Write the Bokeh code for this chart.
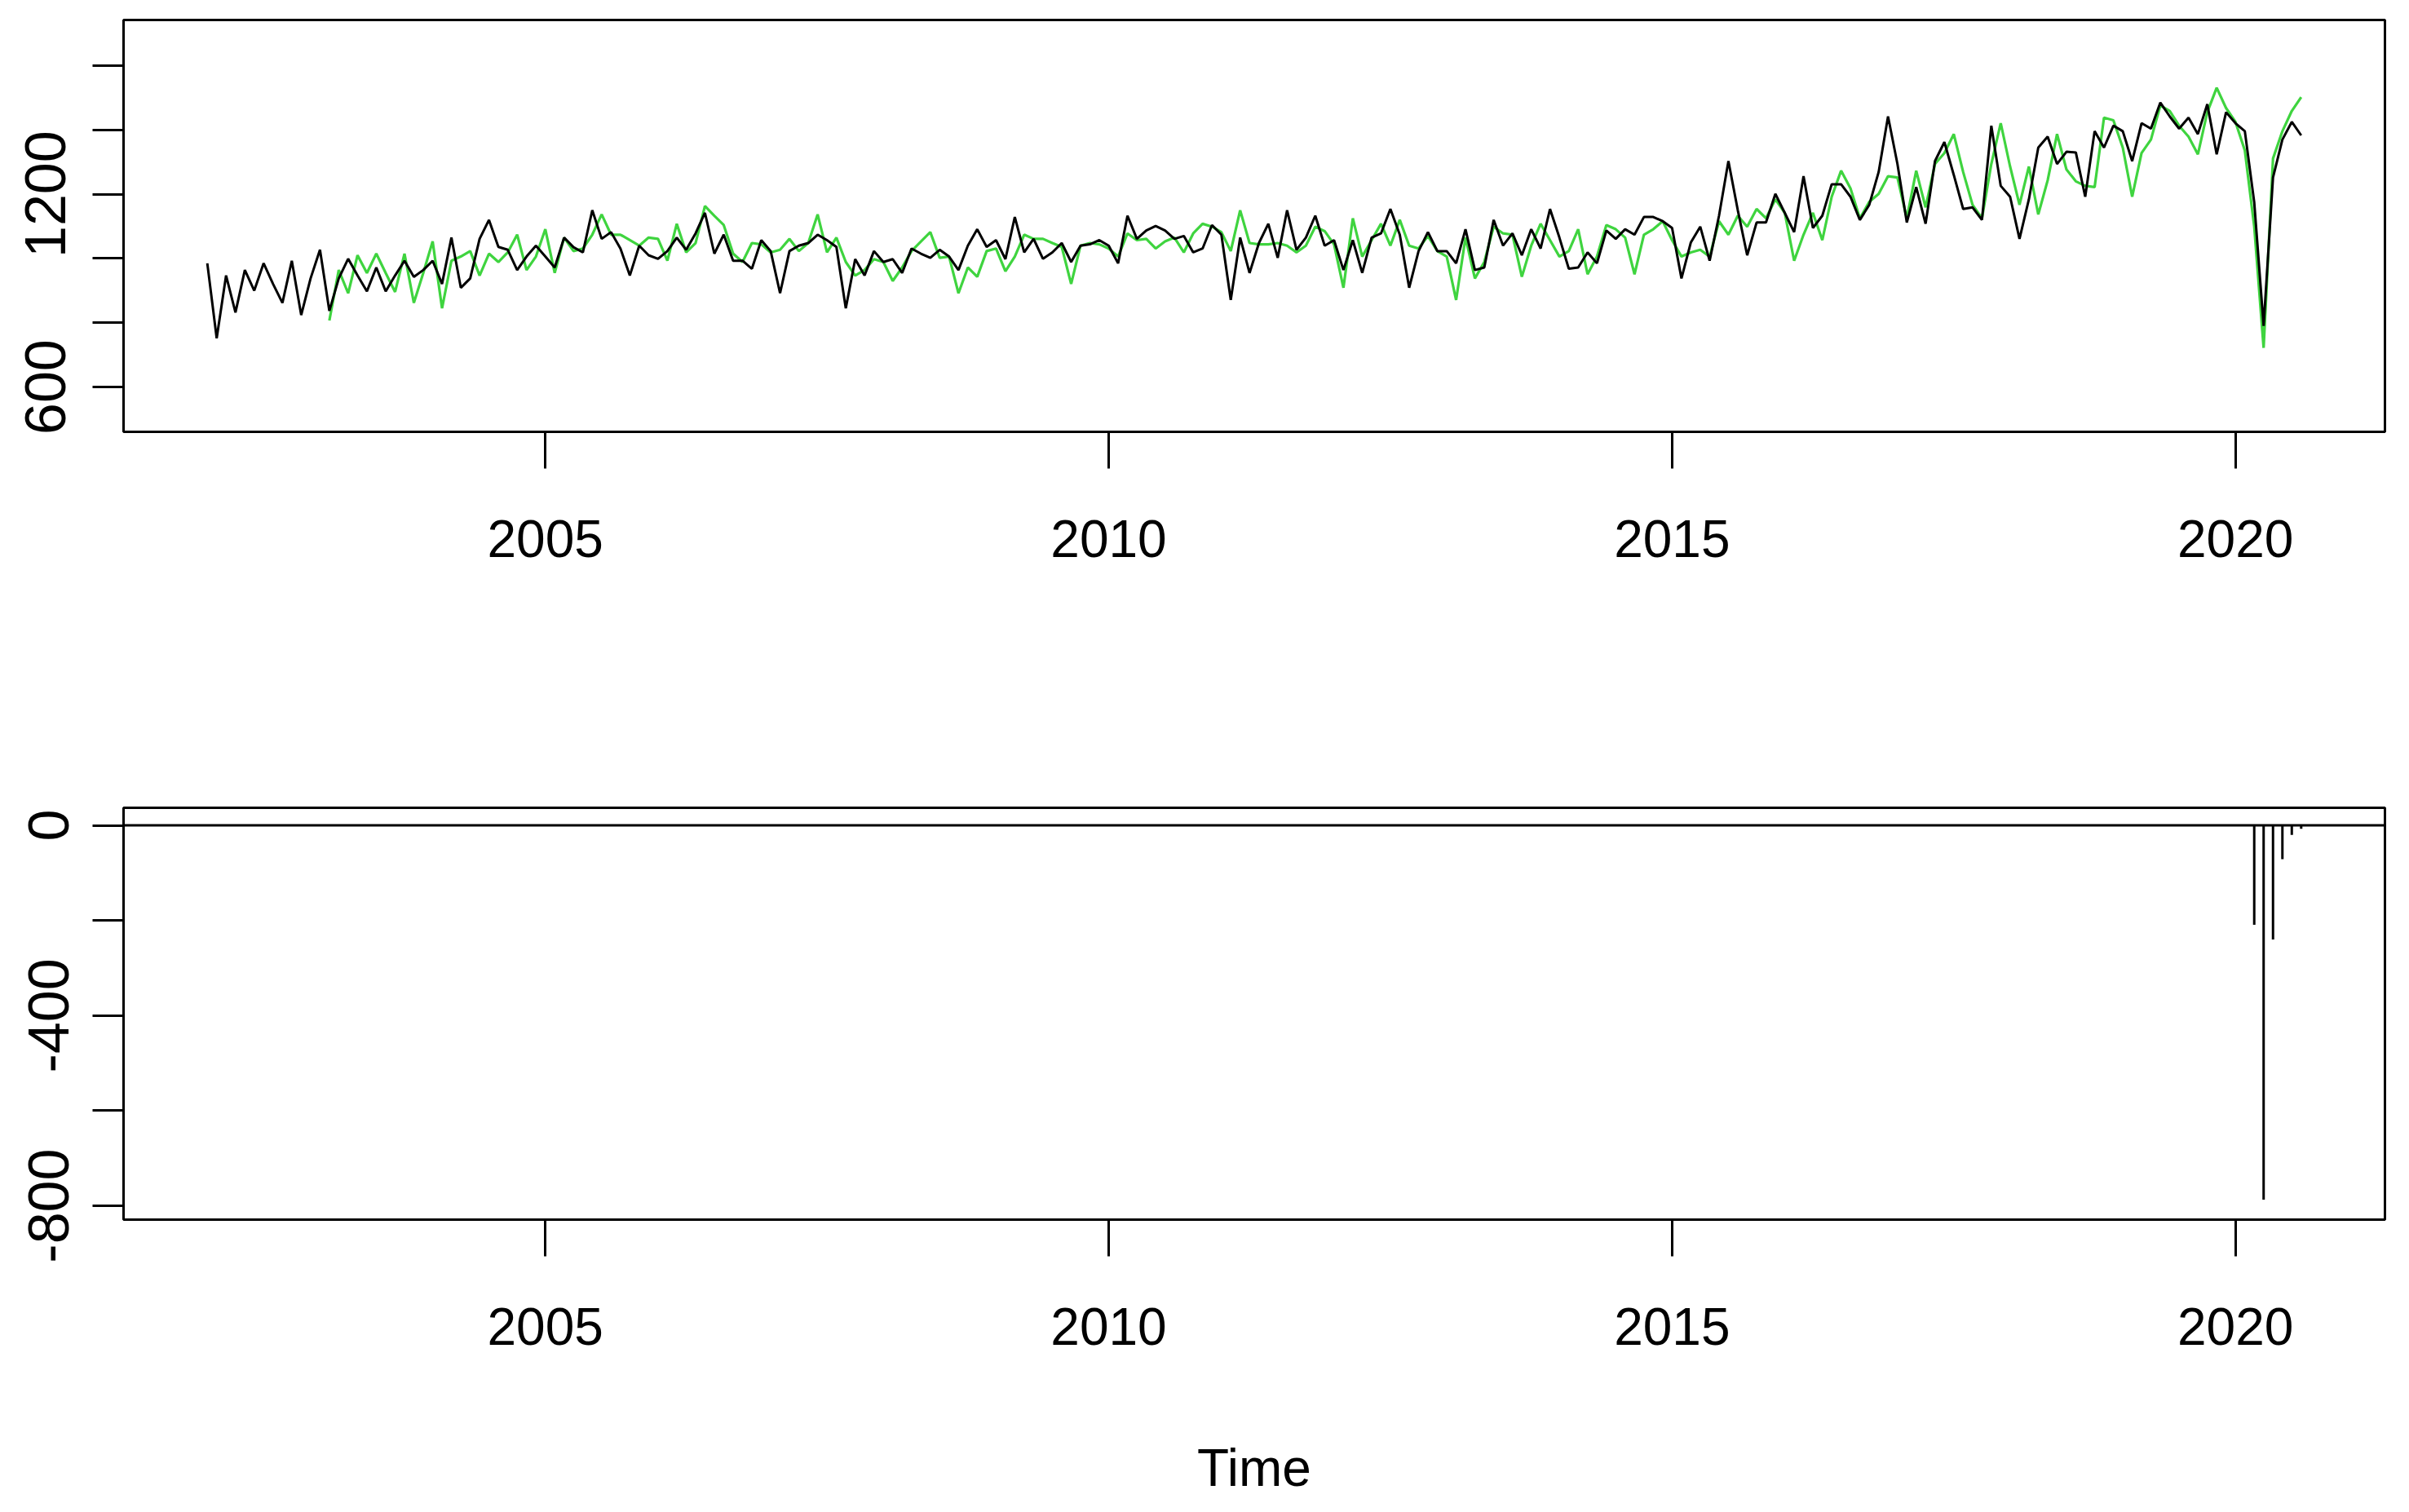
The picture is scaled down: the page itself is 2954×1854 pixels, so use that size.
from bokeh.plotting import figure
from bokeh.layouts import column
from bokeh.models import FixedTicker, Span, Range1d, ColumnDataSource
from bokeh.embed import file_html
from bokeh.resources import INLINE

# ---------------- data (monthly series) ----------------
start_year = 2002          # observed series starts Jan 2002
fitted_start_offset = 13   # fitted series starts Feb 2003

observed = [
    985, 752, 947, 832, 964, 900, 985, 921, 862, 993, 824, 938,
    1027, 837, 938, 999, 947, 898, 972, 898, 947, 993, 943, 964,
    993, 921, 1065, 909, 938, 1061, 1120, 1036, 1027, 964, 1006, 1040,
    1006, 972, 1065, 1035, 1019, 1150, 1061, 1082, 1031, 947, 1040, 1010,
    999, 1023, 1065, 1027, 1078, 1142, 1015, 1074, 993, 993, 968, 1057,
    1023, 892, 1023, 1040, 1048, 1074, 1057, 1036, 845, 998, 947, 1023,
    989, 998, 955, 1031, 1015, 1002, 1027, 1006, 964, 1040, 1091, 1036,
    1057, 998, 1129, 1019, 1061, 999, 1019, 1048, 989, 1040, 1044, 1057,
    1040, 985, 1133, 1061, 1087, 1101, 1087, 1061, 1070, 1019, 1031, 1104,
    1074, 871, 1065, 955, 1048, 1108, 1002, 1150, 1027, 1065, 1133, 1040,
    1057, 964, 1057, 955, 1065, 1078, 1154, 1074, 909, 1023, 1082, 1023,
    1023, 985, 1091, 964, 972, 1120, 1040, 1078, 1010, 1091, 1031, 1154,
    1065, 968, 972, 1019, 985, 1087, 1061, 1091, 1074, 1129, 1129, 1116,
    1095, 938, 1050, 1099, 993, 1133, 1303, 1150, 1010, 1112, 1112, 1201,
    1142, 1082, 1256, 1095, 1133, 1231, 1231, 1192, 1120, 1167, 1269, 1442,
    1294, 1112, 1222, 1108, 1303, 1362, 1260, 1154, 1159, 1120, 1413, 1226,
    1192, 1061, 1184, 1345, 1379, 1294, 1332, 1330, 1192, 1396, 1345, 1413,
    1396, 1303, 1421, 1404, 1485, 1442, 1404, 1438, 1387, 1480, 1324, 1455,
    1421, 1396, 1175, 790, 1252, 1370, 1425, 1383,
]

fitted = [
    807, 964, 892, 1010, 955, 1015, 955, 896, 1015, 862, 955,
    1053, 845, 993, 1006, 1023, 947, 1015, 989, 1019, 1074, 964, 1006,
    1091, 955, 1065, 1023, 1031, 1074, 1137, 1074, 1074, 1057, 1040, 1065,
    1061, 993, 1108, 1019, 1048, 1163, 1133, 1104, 1015, 989, 1048, 1044,
    1019, 1027, 1061, 1023, 1048, 1137, 1019, 1065, 989, 947, 964, 998,
    989, 930, 972, 1023, 1053, 1082, 1002, 1006, 892, 972, 943, 1023,
    1031, 960, 1006, 1074, 1061, 1061, 1048, 1036, 921, 1040, 1048, 1044,
    1031, 1006, 1078, 1057, 1061, 1031, 1053, 1065, 1019, 1078, 1108, 1099,
    1082, 1023, 1150, 1048, 1044, 1044, 1048, 1040, 1019, 1040, 1099, 1085,
    1044, 909, 1125, 1006, 1057, 1108, 1040, 1120, 1040, 1031, 1070, 1023,
    1006, 871, 1065, 938, 989, 1099, 1078, 1074, 943, 1040, 1108, 1057,
    1006, 1023, 1091, 951, 1006, 1104, 1091, 1065, 951, 1074, 1091, 1116,
    1057, 1006, 1019, 1027, 1006, 1116, 1074, 1133, 1099, 1154, 1125, 1184,
    1142, 993, 1074, 1142, 1057, 1192, 1273, 1218, 1125, 1176, 1201, 1256,
    1252, 1125, 1273, 1159, 1294, 1328, 1387, 1269, 1167, 1125, 1294, 1421,
    1286, 1167, 1286, 1137, 1243, 1387, 1277, 1240, 1226, 1222, 1438, 1430,
    1345, 1192, 1328, 1370, 1476, 1459, 1413, 1379, 1324, 1455, 1531, 1468,
    1425, 1336, 1099, 722, 1311, 1396, 1459, 1502,
]

# intervention effect (bottom panel), March - August 2020
effect_year = 2020
effect_months = [3, 4, 5, 6, 7, 8]
effect_values = [-209, -787, -240, -71, -20, -7]

x_ticks = [2005, 2010, 2015, 2020]
top_y_ticks = [600, 800, 1000, 1200, 1400, 1600]
top_y_labels = {600: "600", 800: "", 1000: "", 1200: "1200", 1400: "", 1600: ""}
bot_y_ticks = [-800, -600, -400, -200, 0]
bot_y_labels = {-800: "-800", -600: "", -400: "-400", -200: "", 0: "0"}

# ---------------- derived time index ----------------
t_obs = [start_year + i / 12 for i in range(len(observed))]
t_fit = [start_year + (fitted_start_offset + i) / 12 for i in range(len(fitted))]
t_eff = [effect_year + (m - 1) / 12 for m in effect_months]

FONT = "Liberation Sans"
GREEN = "#3fd43f"

x_lo, x_hi = 2001.2567, 2021.3267


def style(p, y_ticks, y_labels, y_standoff):
    p.outline_line_color = "black"
    p.outline_line_width = 3
    p.outline_line_alpha = 1.0
    p.background_fill_color = "white"
    p.border_fill_color = "white"
    p.xgrid.visible = False
    p.ygrid.visible = False
    for ax in (p.xaxis[0], p.yaxis[0]):
        ax.axis_line_color = None
        ax.major_tick_in = 0
        ax.minor_tick_line_color = None
        ax.major_tick_line_width = 3
        ax.major_tick_line_color = "black"
        ax.major_label_text_color = "black"
    xa = p.xaxis[0]
    xa.ticker = FixedTicker(ticks=x_ticks)
    xa.major_tick_out = 45
    xa.major_label_text_font = FONT
    xa.major_label_text_font_size = "64px"
    xa.major_label_standoff = 63
    ya = p.yaxis[0]
    ya.ticker = FixedTicker(ticks=y_ticks)
    ya.major_label_overrides = y_labels
    ya.major_tick_out = 38
    ya.major_label_orientation = "vertical"
    ya.major_label_text_font = FONT
    ya.major_label_text_font_size = "70px"
    ya.major_label_standoff = y_standoff


# ---------------- top panel ----------------
p1 = figure(frame_width=2773, frame_height=505,
            x_range=Range1d(x_lo, x_hi), y_range=Range1d(460.7, 1742),
            output_backend="svg", toolbar_location=None,
            min_border_left=151, min_border_right=14,
            min_border_top=24, min_border_bottom=400)
style(p1, top_y_ticks, top_y_labels, 33)
p1.line(t_fit, fitted, line_color=GREEN, line_width=3.2)
p1.line(t_obs, observed, line_color="black", line_width=3)

# ---------------- bottom panel ----------------
p2 = figure(frame_width=2773, frame_height=505,
            x_range=Range1d(x_lo, x_hi), y_range=Range1d(-829, 37),
            output_backend="svg", toolbar_location=None,
            min_border_left=147, min_border_right=18,
            min_border_top=61, min_border_bottom=345)
style(p2, bot_y_ticks, bot_y_labels, 29)
p2.add_layout(Span(location=0, dimension="width", line_color="black", line_width=3))
src = ColumnDataSource(dict(x=t_eff, y0=[0] * len(t_eff), y1=effect_values))
p2.segment(x0="x", y0="y0", x1="x", y1="y1", source=src, line_color="black", line_width=3)
p2.xaxis[0].axis_label = "Time"
p2.xaxis[0].axis_label_text_font = FONT
p2.xaxis[0].axis_label_text_font_size = "64px"
p2.xaxis[0].axis_label_text_font_style = "normal"
p2.xaxis[0].axis_label_text_color = "black"
p2.xaxis[0].axis_label_standoff = 112

layout = column(p1, p2, spacing=0)
open("out.html", "w").write(file_html(layout, INLINE))
